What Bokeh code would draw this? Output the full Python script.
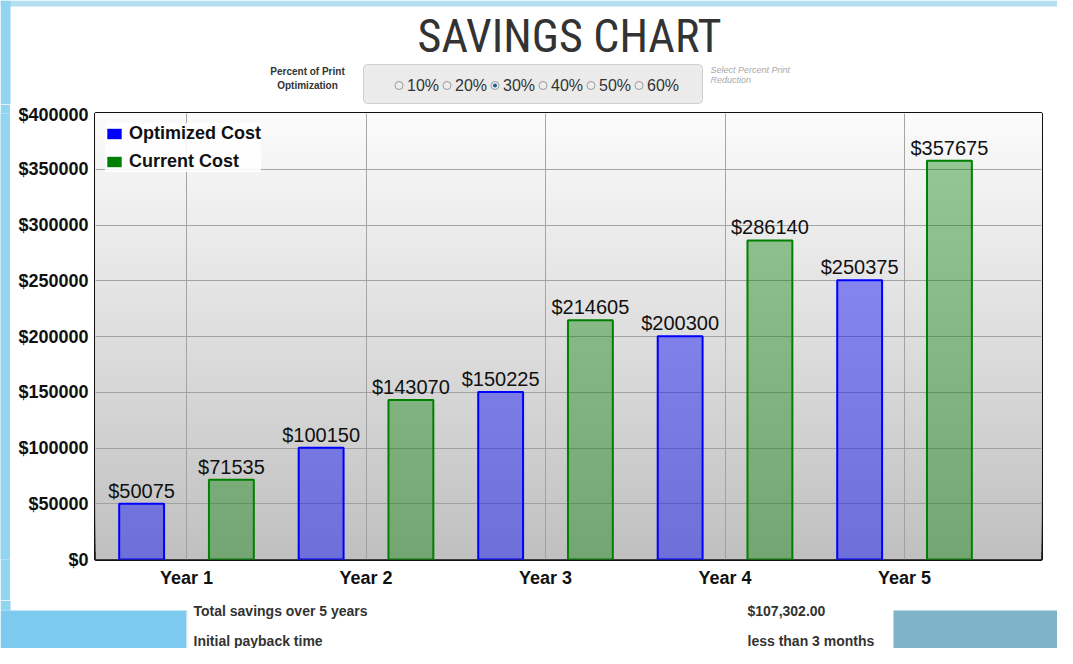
from bokeh.plotting import figure
from bokeh.layouts import column, row
from bokeh.models import (ColumnDataSource, Range1d, FixedTicker, LabelSet,
                          BoxAnnotation, Legend, LegendItem, PrintfTickFormatter)
from bokeh.core.properties import value
from bokeh.transform import dodge
from bokeh.embed import file_html
from bokeh.resources import INLINE

# ---------------- data ----------------
page_title = "SAVINGS CHART"
years = ["Year 1", "Year 2", "Year 3", "Year 4", "Year 5"]
optimized_cost = [50075, 100150, 150225, 200300, 250375]
current_cost = [71535, 143070, 214605, 286140, 357675]
series_names = ["Optimized Cost", "Current Cost"]
y_ticks = [0, 50000, 100000, 150000, 200000, 250000, 300000, 350000, 400000]
radio_options = ["10%", "20%", "30%", "40%", "50%", "60%"]
selected_option = "30%"
option_caption = ["Percent of Print", "Optimization"]
option_hint = ["Select Percent Print", "Reduction"]
summary_labels = ["Total savings over 5 years", "Initial payback time"]
summary_values = ["$107,302.00", "less than 3 months"]

# ---------------- layout (page pixel coordinates) ----------------
W = 1057
X0, X1 = 0, W
TOP_Y0, TOP_Y1 = 0, 104     # header strip
CH_Y0, CH_Y1 = 104, 600     # chart
BOT_Y0, BOT_Y1 = 600, 648   # summary strip
SIDE = 10                   # blue page edge at the left
FONT = "Liberation Sans"
TITLE_FONT = "Roboto Condensed"
BLUE_EDGE = "#92d5f1"


def strip(y0, y1, x0=X0, x1=X1):
    f = figure(width=x1 - x0, height=y1 - y0, output_backend="svg",
               toolbar_location=None,
               x_range=Range1d(x0, x1), y_range=Range1d(y1, y0),
               x_axis_type=None, y_axis_type=None, min_border=0,
               min_border_left=0, min_border_right=0,
               min_border_top=0, min_border_bottom=0)
    f.outline_line_color = None
    f.background_fill_color = "white"
    f.border_fill_color = "white"
    return f


def txt(f, x, y, text, size, color="#333333", style="normal", align="left",
        baseline="middle", font=FONT):
    f.text(x=[x], y=[y], text=[text], text_font=value(font), text_font_size=size,
           text_color=color, text_font_style=style, text_align=align,
           text_baseline=baseline)


# ---------------- header ----------------
top = strip(TOP_Y0, TOP_Y1)
top.quad(left=[X0], right=[X1], top=[0], bottom=[6], fill_color="#b4e0f1", line_color=None)
top.quad(left=[X0], right=[SIDE], top=[0], bottom=[TOP_Y1], fill_color=BLUE_EDGE,
         line_color=None)
txt(top, 569, 35, page_title, "46px", color="#333333", align="center",
    baseline="middle", font=TITLE_FONT)
txt(top, 307, 71, option_caption[0], "10px", style="bold", align="center")
txt(top, 307, 85, option_caption[1], "10px", style="bold", align="center")
top.quad(left=[363], right=[702], top=[64], bottom=[103], fill_color="#ebebeb",
         line_color="#cfcfcf", line_width=1, border_radius=4)
radio_x = [398.5 + 48 * i for i in range(len(radio_options))]
top.scatter(x=radio_x, y=[85] * len(radio_x), marker="circle", size=8,
            fill_color="#eeeeee", line_color="#9a9a9a", line_width=1)
sel = [radio_x[i] for i, o in enumerate(radio_options) if o == selected_option]
top.scatter(x=sel, y=[85] * len(sel), marker="circle", size=4,
            fill_color="#1d5f8f", line_color=None)
top.text(x=[x + 8 for x in radio_x], y=[85] * len(radio_x), text=radio_options,
         text_font=value(FONT), text_font_size="16px", text_color="#333333",
         text_baseline="middle", text_align="left")
txt(top, 710, 69, option_hint[0], "9px", color="#aaaaaa", style="italic")
txt(top, 710, 79, option_hint[1], "9px", color="#aaaaaa", style="italic")

# ---------------- chart ----------------
FRAME_L, FRAME_T, FRAME_R, FRAME_B = 95, 113, 1041, 559
edge = strip(CH_Y0, CH_Y1, 0, SIDE)
edge.background_fill_color = BLUE_EDGE
edge.border_fill_color = BLUE_EDGE

p = figure(width=W - SIDE, height=CH_Y1 - CH_Y0, output_backend="svg",
           toolbar_location=None,
           x_range=Range1d(-0.507, 4.763), y_range=Range1d(0, 400000),
           min_border_left=FRAME_L - SIDE, min_border_right=X1 - FRAME_R,
           min_border_top=FRAME_T - CH_Y0, min_border_bottom=CH_Y1 - FRAME_B)
p.border_fill_color = "white"
p.background_fill_color = "#c0c0c0"
p.outline_line_color = "#111111"
p.outline_line_width = 3

# vertical gradient of the plot area
n_bands = 60
for k in range(n_bands):
    g = int(round(192 + (251 - 192) * (k + 0.5) / n_bands))
    p.add_layout(BoxAnnotation(bottom=400000 * k / n_bands, top=400000,
                               fill_color="#%02x%02x%02x" % (g, g, g), fill_alpha=1,
                               line_alpha=0, level="image"))

p.xaxis.ticker = FixedTicker(ticks=list(range(len(years))))
p.xaxis.major_label_overrides = {i: y for i, y in enumerate(years)}
p.yaxis.ticker = FixedTicker(ticks=y_ticks)
p.yaxis.formatter = PrintfTickFormatter(format="$%d")
for ax in (p.xaxis[0], p.yaxis[0]):
    ax.axis_line_color = None
    ax.major_tick_line_color = None
    ax.minor_tick_line_color = None
    ax.major_tick_out = 0
    ax.major_tick_in = 0
    ax.major_label_text_font = FONT
    ax.major_label_text_font_style = "bold"
    ax.major_label_text_font_size = "18px"
    ax.major_label_text_color = "#111111"
p.yaxis.major_label_standoff = 7
p.xaxis.major_label_standoff = 8
p.grid.grid_line_color = "#9c9c9c"
p.grid.grid_line_alpha = 0.9
p.grid.grid_line_width = 1

src = ColumnDataSource(dict(
    idx=list(range(len(years))),
    optimized=optimized_cost,
    current=current_cost,
    opt_text=["$%d" % v for v in optimized_cost],
    cur_text=["$%d" % v for v in current_cost],
))
p.vbar(x=dodge("idx", -0.25, range=p.x_range), top="optimized", width=0.25, source=src,
       fill_color="#0000ff", fill_alpha=0.42, line_color="#0000ff", line_width=2)
p.vbar(x=dodge("idx", 0.25, range=p.x_range), top="current", width=0.25, source=src,
       fill_color="#008000", fill_alpha=0.40, line_color="#008000", line_width=2)

for col, t, off in (("optimized", "opt_text", -0.25), ("current", "cur_text", 0.25)):
    p.add_layout(LabelSet(x=dodge("idx", off, range=p.x_range), y=col, text=t, source=src,
                          y_offset=6, text_align="center", text_baseline="alphabetic",
                          text_font=value(FONT), text_font_size="20px",
                          text_color="#111111"))

# legend swatches: zero-width copies of the bars with solid colours
r1 = p.vbar(x=dodge("idx", -0.25, range=p.x_range), top="optimized", width=0, source=src,
            fill_color="#0000ff", fill_alpha=1, line_alpha=0)
r2 = p.vbar(x=dodge("idx", 0.25, range=p.x_range), top="current", width=0, source=src,
            fill_color="#008000", fill_alpha=1, line_alpha=0)
legend = Legend(items=[LegendItem(label=series_names[0], renderers=[r1], index=0),
                       LegendItem(label=series_names[1], renderers=[r2], index=0)],
                location="top_left", margin=10, padding=5, spacing=7,
                glyph_width=18, glyph_height=13, label_standoff=6, label_height=20,
                label_text_font=FONT, label_text_font_style="bold",
                label_text_font_size="18px", label_text_color="#111111",
                background_fill_color="white", background_fill_alpha=0.85,
                border_line_color=None)
p.add_layout(legend)

# ---------------- summary strip ----------------
bot = strip(BOT_Y0, BOT_Y1)
bot.quad(left=[X0], right=[SIDE], top=[BOT_Y0], bottom=[610], fill_color=BLUE_EDGE,
         line_color=None)
bot.quad(left=[X0], right=[186], top=[610], bottom=[BOT_Y1], fill_color="#7ccbee",
         line_color=None)
bot.quad(left=[893], right=[X1], top=[610], bottom=[BOT_Y1], fill_color="#7fb3c8",
         line_color=None)
bot.quad(left=[186], right=[187], top=[610], bottom=[BOT_Y1], fill_color="#e2e2e2",
         line_color=None)
for j, (lab, val) in enumerate(zip(summary_labels, summary_values)):
    y = 610 + 30 * j
    txt(bot, 193, y, lab, "14px", style="bold")
    txt(bot, 747, y, val, "14px", style="bold")

layout = column(row(top), row(edge, p, spacing=0), row(bot), spacing=0)
open("out.html", "w").write(file_html(layout, INLINE))
